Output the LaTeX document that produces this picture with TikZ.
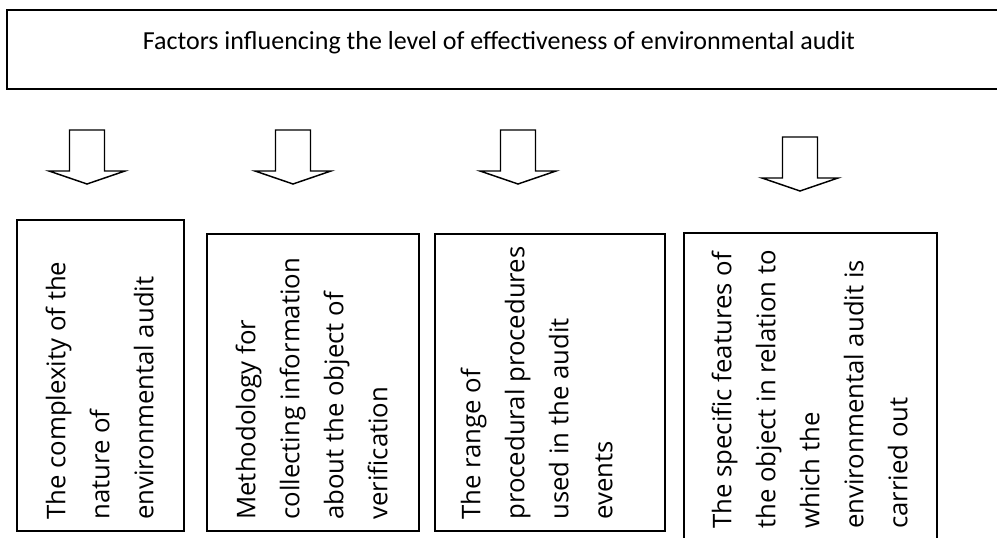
\documentclass[tikz,border=0pt]{standalone}
\usepackage{fontspec}
\newfontfamily\titlefont{Carlito}
\newfontfamily\boxfont{Open Sans}
\begin{document}
\begin{tikzpicture}[x=0.75pt,y=-0.75pt,
  headbox/.style={draw,line width=1.4pt,inner sep=0pt},
  factorbox/.style={draw,line width=1.1pt,inner sep=0pt},
  factortext/.style={rotate=90,anchor=north west,inner sep=0pt,align=left,
    font={\boxfont\fontsize{19.3}{33}\selectfont}},
  arrowline/.style={draw,line width=1.1pt,fill=white,line join=miter},
  blockarrow/.pic={\path[arrowline] (-17.5,0) -- (17.5,0) -- (17.5,41) -- (38,41)
      -- (0,54) -- (-38,41) -- (-17.5,41) -- cycle;}]
\useasboundingbox (0,0) rectangle (997,538);

% heading box (runs past the right edge)
\node[headbox,minimum width=752.25pt,minimum height=59.25pt] (top) at (508.5,49.5) {};
\node[anchor=base,inner sep=0pt,font={\titlefont\fontsize{19.5}{23}\selectfont}] (title) at (499,50)
  {Factors influencing the level of effectiveness of environmental audit};

% block arrows
\pic at (87,130) {blockarrow};
\pic at (293,130) {blockarrow};
\pic at (518,130) {blockarrow};
\pic at (800,137) {blockarrow};

% factor boxes
\node[factorbox,minimum width=125.25pt,minimum height=233.25pt] (b1) at (100.5,375.5) {};
\node[factorbox,minimum width=159pt,minimum height=222.75pt] (b2) at (313,382.5) {};
\node[factorbox,minimum width=172.5pt,minimum height=222.75pt] (b3) at (550,382.5) {};
\node[factorbox,minimum width=189.75pt,minimum height=237.75pt] (b4) at (810.5,391.5) {};

% rotated texts
\node[factortext] (t1) at (45.4,520) {The complexity of the\\nature of\\environmental audit};
\node[factortext] (t2) at (235.4,520) {Methodology for\\collecting information\\about the object of\\verification};
\node[factortext] (t3) at (460.4,520) {The range of\\procedural procedures\\used in the audit\\events};
\node[factortext] (t4) at (711.4,529) {The specific features of\\the object in relation to\\which the\\environmental audit is\\carried out};
\end{tikzpicture}
\end{document}
